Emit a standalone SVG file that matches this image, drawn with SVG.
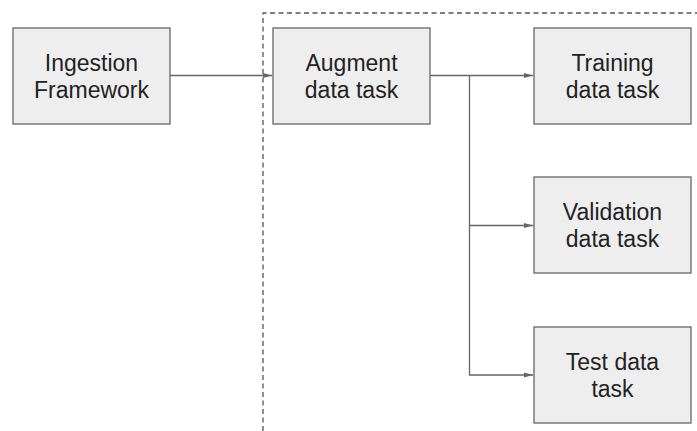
<svg xmlns="http://www.w3.org/2000/svg" width="697" height="431" viewBox="0 0 697 431">
<style>
.box{fill:#eeeeee;stroke:#666666;stroke-width:1.3}
.lbl{font-family:"Liberation Sans",Arial,sans-serif;font-size:23px;fill:#222222;text-anchor:middle}
.conn{fill:none;stroke:#666666;stroke-width:1.3}
.dash{fill:none;stroke:#555555;stroke-width:1.3;stroke-dasharray:5,3.5}
</style>
<defs>
<marker id="ah" markerWidth="10" markerHeight="8" refX="9" refY="4" orient="auto" markerUnits="userSpaceOnUse">
<path d="M0,1.5 L9,4 L0,6.5 Z" fill="#666666"/>
</marker>
</defs>
<path class="dash" d="M263,431 L263,13 L697,13"/>
<g id="connectors">
<line class="conn" x1="170" y1="75.5" x2="272" y2="75.5" marker-end="url(#ah)"/>
<line class="conn" x1="430" y1="75.5" x2="533" y2="75.5" marker-end="url(#ah)"/>
<path class="conn" d="M469.5,75.5 L469.5,375 L533,375" marker-end="url(#ah)"/>
<line class="conn" x1="469.5" y1="225.5" x2="533" y2="225.5" marker-end="url(#ah)"/>
</g>
<g id="ingestion">
<rect class="box" x="13" y="28" width="157" height="96"/>
<text class="lbl" x="91.5" y="71">Ingestion</text>
<text class="lbl" x="91.5" y="98">Framework</text>
</g>
<g id="augment">
<rect class="box" x="273" y="28" width="157" height="96"/>
<text class="lbl" x="351.5" y="71">Augment</text>
<text class="lbl" x="351.5" y="98">data task</text>
</g>
<g id="training">
<rect class="box" x="534" y="28" width="157" height="96"/>
<text class="lbl" x="612.5" y="71">Training</text>
<text class="lbl" x="612.5" y="98">data task</text>
</g>
<g id="validation">
<rect class="box" x="534" y="177" width="157" height="96"/>
<text class="lbl" x="612.5" y="220">Validation</text>
<text class="lbl" x="612.5" y="247">data task</text>
</g>
<g id="test">
<rect class="box" x="534" y="327" width="157" height="96"/>
<text class="lbl" x="612.5" y="370">Test data</text>
<text class="lbl" x="612.5" y="397">task</text>
</g>
</svg>
